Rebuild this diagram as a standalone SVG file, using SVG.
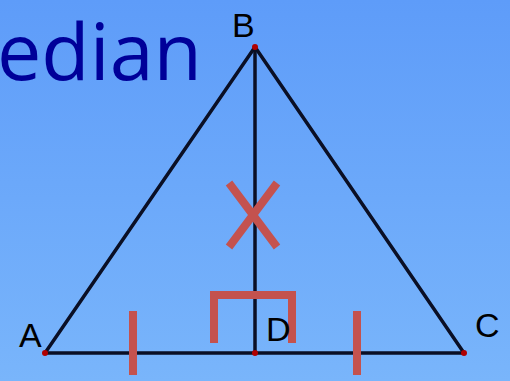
<svg xmlns="http://www.w3.org/2000/svg" width="510" height="381" viewBox="0 0 510 381">
<defs>
<linearGradient id="bg" x1="0" y1="0" x2="0" y2="1">
<stop offset="0" stop-color="#5e9cf9"/>
<stop offset="1" stop-color="#79b5fb"/>
</linearGradient>
<style>
.edge{stroke:#0a0f25;stroke-width:3.5;fill:none;stroke-linecap:round}
.mark{stroke:#c4524e;stroke-width:8;fill:none}
.pt{fill:#b00000}
.lbl{font-family:"Liberation Sans",Arial,sans-serif;font-size:34px;fill:#000}
.title{font-family:"Open Sans","Noto Sans",sans-serif;font-size:79px;fill:#000099}
</style>
</defs>
<rect width="510" height="381" fill="url(#bg)"/>
<text class="title" x="-3" y="80">edian</text>
<g id="connectors">
<line class="edge" x1="45" y1="353" x2="255" y2="47"/>
<line class="edge" x1="255" y1="47" x2="464" y2="353"/>
<line class="edge" x1="45" y1="353" x2="464" y2="353"/>
<line class="edge" x1="255" y1="47" x2="255" y2="353"/>
</g>
<g id="marks">
<line class="mark" x1="133" y1="311" x2="133" y2="375"/>
<line class="mark" x1="357" y1="311" x2="357" y2="375"/>
<line class="mark" x1="229" y1="183" x2="277" y2="247"/>
<line class="mark" x1="277" y1="183" x2="229" y2="247"/>
<polyline class="mark" points="214,343 214,295 292,295 292,343"/>
</g>
<g id="A"><circle class="pt" cx="45" cy="353" r="3"/><text class="lbl" x="19" y="347">A</text></g>
<g id="B"><circle class="pt" cx="255" cy="47" r="3"/><text class="lbl" x="232" y="37">B</text></g>
<g id="C"><circle class="pt" cx="464" cy="353" r="3"/><text class="lbl" x="475" y="337">C</text></g>
<g id="D"><circle class="pt" cx="255" cy="353" r="3"/><text class="lbl" x="266" y="341">D</text></g>
</svg>
